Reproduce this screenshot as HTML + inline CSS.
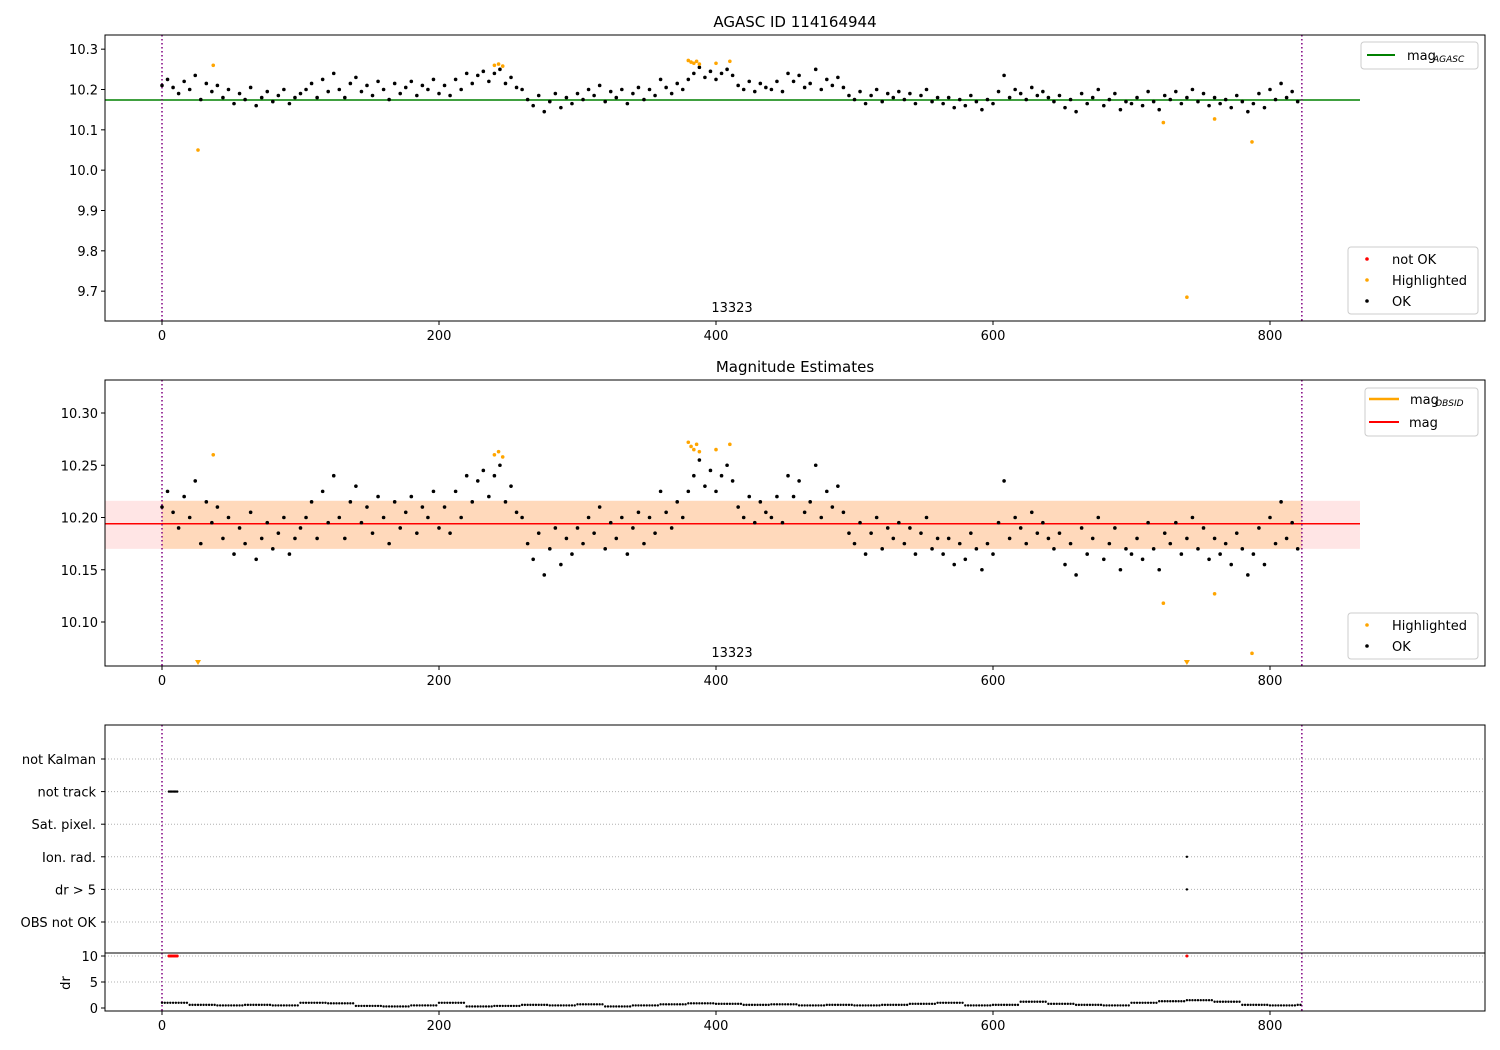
<!DOCTYPE html>
<html><head><meta charset="utf-8"><style>
html,body{margin:0;padding:0;background:#fff;}
svg{display:block;font-family:"DejaVu Sans","Liberation Sans",sans-serif;}
</style></head><body>
<svg id="chart" width="1500" height="1050" viewBox="0 0 1500 1050" xmlns="http://www.w3.org/2000/svg"></svg>
<script>
// ---------- data ----------
const xStep = 4;
const magValues = [10.21,10.225,10.205,10.19,10.22,10.20,10.235,10.175,10.215,10.195,10.21,
10.18,10.2,10.165,10.19,10.175,10.205,10.16,10.18,10.195,10.17,10.185,10.2,10.165,10.18,10.19,
10.2,10.215,10.18,10.225,10.195,10.24,10.2,10.18,10.215,10.23,10.195,10.21,10.185,10.22,10.2,10.175,10.215,10.19,10.205,10.22,10.185,10.21,10.2,10.225,10.19,
10.21,10.185,10.225,10.2,10.24,10.215,10.235,10.245,10.22,10.24,
10.25,10.215,10.23,10.205,10.2,
10.175,10.16,10.185,10.145,10.17,10.19,10.155,10.18,10.165,10.19,
10.175,10.2,10.185,10.21,10.17,10.195,10.18,10.2,10.165,10.19,10.205,10.175,10.2,10.185,10.225,
10.205,10.19,10.215,10.2,10.225,
10.24,10.255,10.23,10.245,10.225,10.24,10.25,10.235,
10.21,10.2,10.22,10.195,10.215,10.205,10.2,10.22,10.195,10.24,
10.22,10.235,10.205,10.215,10.25,10.2,10.225,10.21,10.23,10.205,
10.185,10.175,10.195,10.165,10.185,10.2,10.17,10.19,10.18,10.195,10.175,10.19,10.165,10.185,10.2,10.17,10.18,
10.165,10.18,10.155,10.175,10.16,10.185,10.17,10.15,10.175,10.165,
10.195,10.235,10.18,10.2,10.19,10.175,10.205,10.185,10.195,10.18,
10.17,10.185,10.155,10.175,10.145,10.19,10.165,10.18,10.2,10.16,10.175,10.19,10.15,10.17,10.165,
10.18,10.16,10.195,10.17,10.15,10.185,10.175,10.195,10.165,10.18,10.2,10.17,10.19,10.16,10.18,10.165,10.175,10.155,10.185,10.17,
10.145,10.165,10.19,10.155,10.2,10.175,10.215,10.18,10.195,10.17];
const hlX = [26,37,240,243,246,380,382,384,386,388,400,410,723,740,760,787];
const hlY = [10.05,10.26,10.26,10.263,10.258,10.272,10.268,10.265,10.27,10.263,10.265,10.27,10.118,9.685,10.127,10.07];
const magAgasc = 10.174;
const magMean = 10.194;
const magBandLo = 10.170, magBandHi = 10.216;
const obsStart = 0, obsEnd = 823;
const drBin = 20;
const drValues = [1.0,0.6,0.5,0.6,0.5,1.0,0.9,0.4,0.3,0.5,1.0,0.3,0.4,0.6,0.5,0.7,0.3,0.5,0.7,0.9,0.8,0.6,0.7,0.5,0.6,0.5,0.6,0.8,1.0,0.5,0.6,1.2,0.8,0.6,0.5,1.0,1.3,1.5,1.2,0.6,0.5,0.6];
const flagNames = ["not Kalman","not track","Sat. pixel.","Ion. rad.","dr > 5","OBS not OK"];
const flagPtsX = [5,6,7,8,9,10,11,740,740];
const flagPtsRow = [1,1,1,1,1,1,1,3,4];
const drRedX = [5,6,7,8,9,10,11,740];
const drRedY = [10,10,10,10,10,10,10,10];
const xTicks = [0,200,400,600,800];
const y1Ticks = [9.7,9.8,9.9,10.0,10.1,10.2,10.3];
const y2Ticks = [10.10,10.15,10.20,10.25,10.30];
const drTicks = [0,5,10];

// ---------- helpers ----------
const svg = document.getElementById('chart');
const NS = 'http://www.w3.org/2000/svg';
function mk(tag, attrs, parent){const e=document.createElementNS(NS,tag);for(const k in attrs)e.setAttribute(k,attrs[k]);(parent||svg).appendChild(e);return e;}
const L=105,R=1485;
const X = v => 162 + v*(1108/800);
const Y1 = v => 89.5 + (10.2-v)*403.3;
const Y2 = v => 517.5 + (10.2-v)*1045;
const YD = v => 1008 - v*5.2;
const rowY = i => 759 + i*32.6;

function frame(top,bot,name){
  mk('rect',{x:L,y:top,width:R-L,height:bot-top,fill:'none',stroke:'#000','stroke-width':1,});
}
function xAxis(bot){
  xTicks.forEach(t=>{
    mk('line',{x1:X(t),x2:X(t),y1:bot,y2:bot+4,stroke:'#000'});
    const tx=mk('text',{x:X(t),y:bot+19,'font-size':13,'text-anchor':'middle'});tx.textContent=t;
    
    
  });
}
function yAxis(ticks,fn,fmt){
  ticks.forEach(t=>{
    const y=fn(t);
    mk('line',{x1:L-4,x2:L,y1:y,y2:y,stroke:'#000'});
    const tx=mk('text',{x:L-7,y:y+5,'font-size':13,'text-anchor':'end'});tx.textContent=t.toFixed(fmt);
    
    
  });
}
function vlines(top,bot){
  [obsStart,obsEnd].forEach(v=>{
    const l=mk('line',{x1:X(v),x2:X(v),y1:top,y2:bot,stroke:'#800080','stroke-width':1.5,'stroke-dasharray':'1.5,2.5'});
    
    
  });
}
function dot(x,y,c,r,name){const d=mk('circle',{cx:x,cy:y,r:r||1.8,fill:c});return d;}
function text(x,y,s,size,anchor,name){const t=mk('text',{x:x,y:y,'font-size':size,'text-anchor':anchor||'middle'});t.textContent=s;return t;}

// ---------- panel 1 ----------
text(795,27,'AGASC ID 114164944',15,'middle','title-agasc');
const g1=mk('line',{x1:L,x2:1360,y1:Y1(magAgasc),y2:Y1(magAgasc),stroke:'#008000','stroke-width':1.5});

vlines(35,321);
magValues.forEach((v,i)=>dot(X(i*xStep),Y1(v),'#000',1.8,'ok-point'));
hlX.forEach((x,i)=>dot(X(x),Y1(hlY[i]),'orange',1.8,'highlighted-point'));
text(732,312,'13323',13,'middle','obsid-label');
frame(35,321,'magnitude-axes');
xAxis(321); yAxis(y1Ticks,Y1,1);
// legends
mk('rect',{x:1361,y:42,width:117,height:27,rx:3,fill:'#fff',stroke:'#ccc',});
mk('line',{x1:1367,x2:1395,y1:55,y2:55,stroke:'#008000','stroke-width':2});
text(1407,60,'mag',13,'start','legend-mag-agasc');
text(1433,62,'AGASC',9,'start','legend-subscript').setAttribute('font-style','italic');
mk('rect',{x:1348,y:247,width:130,height:67,rx:3,fill:'#fff',stroke:'#ccc',});
[['not OK','red',259],['Highlighted','orange',280],['OK','#000',301]].forEach(a=>{
  dot(1367,a[2],a[1],1.8,'legend-marker');text(1392,a[2]+5,a[0],13,'start','legend-entry');
});

// ---------- panel 2 ----------
text(795,372,'Magnitude Estimates',15,'middle','title-estimates');
mk('rect',{x:L,y:Y2(magBandHi),width:1360-L,height:Y2(magBandLo)-Y2(magBandHi),fill:'rgba(255,0,0,0.1)',});
mk('rect',{x:X(obsStart),y:Y2(magBandHi),width:X(obsEnd)-X(obsStart),height:Y2(magBandLo)-Y2(magBandHi),fill:'rgba(255,165,0,0.18)',});
mk('line',{x1:L,x2:1360,y1:Y2(magMean),y2:Y2(magMean),stroke:'red','stroke-width':1.5,});
vlines(380,666);
magValues.forEach((v,i)=>dot(X(i*xStep),Y2(v),'#000',1.8,'ok-point'));
const y2min=10.06;
hlX.forEach((x,i)=>{
  if(hlY[i]<y2min){
    const cx=X(x),cy=663;
    const p=mk('polygon',{points:`${cx-3},${cy-3} ${cx+3},${cy-3} ${cx},${cy+2}`,fill:'orange'});
    
  } else dot(X(x),Y2(hlY[i]),'orange',1.8,'highlighted-point');
});
text(732,657,'13323',13,'middle','obsid-label');
frame(380,666,'estimates-axes');
xAxis(666); yAxis(y2Ticks,Y2,2);
mk('rect',{x:1365,y:388,width:113,height:48,rx:3,fill:'#fff',stroke:'#ccc',});
mk('line',{x1:1369,x2:1399,y1:399,y2:399,stroke:'orange','stroke-width':2.5});
text(1410,404,'mag',13,'start','legend-mag-obsid');
text(1435,406,'OBSID',9,'start','legend-subscript').setAttribute('font-style','italic');
mk('line',{x1:1369,x2:1399,y1:422,y2:422,stroke:'red','stroke-width':2});
text(1409,427,'mag',13,'start','legend-mag');
mk('rect',{x:1348,y:613,width:130,height:46,rx:3,fill:'#fff',stroke:'#ccc',});
[['Highlighted','orange',625],['OK','#000',646]].forEach(a=>{
  dot(1367,a[2],a[1],1.8,'legend-marker');text(1392,a[2]+5,a[0],13,'start','legend-entry');
});

// ---------- panel 3: flags ----------
flagNames.forEach((n,i)=>{
  const l=mk('line',{x1:L,x2:R,y1:rowY(i),y2:rowY(i),stroke:'#b0b0b0','stroke-dasharray':'1,2'});
  
  mk('line',{x1:L-4,x2:L,y1:rowY(i),y2:rowY(i),stroke:'#000'});
  text(L-9,rowY(i)+5,n,13,'end','flag-label');
});
vlines(725,1011);
flagPtsX.forEach((x,i)=>dot(X(x),rowY(flagPtsRow[i]),'#000',1.2,'flag-point'));
frame(725,953,'flags-axes');
// dr panel
[5,10].forEach(v=>{const l=mk('line',{x1:L,x2:R,y1:YD(v),y2:YD(v),stroke:'#b0b0b0','stroke-dasharray':'1,2'});});
drValues.forEach((v,i)=>{
  for(let x=i*drBin;x<(i+1)*drBin && x<=obsEnd;x+=2) dot(X(x),YD(v),'#000',1.2,'dr-point');
});
drRedX.forEach((x,i)=>dot(X(x),YD(drRedY[i]),'red',1.5,'dr-red-point'));
frame(953,1011,'dr-axes');
drTicks.forEach(t=>{mk('line',{x1:L-4,x2:L,y1:YD(t),y2:YD(t),stroke:'#000'});text(L-7,YD(t)+5,t,13,'end','dr-tick-label');});
const yl=text(70,983,'dr',13,'middle','dr-axis-title');yl.setAttribute('transform','rotate(-90 70 983)');
xAxis(1011);
</script>
</body></html>
